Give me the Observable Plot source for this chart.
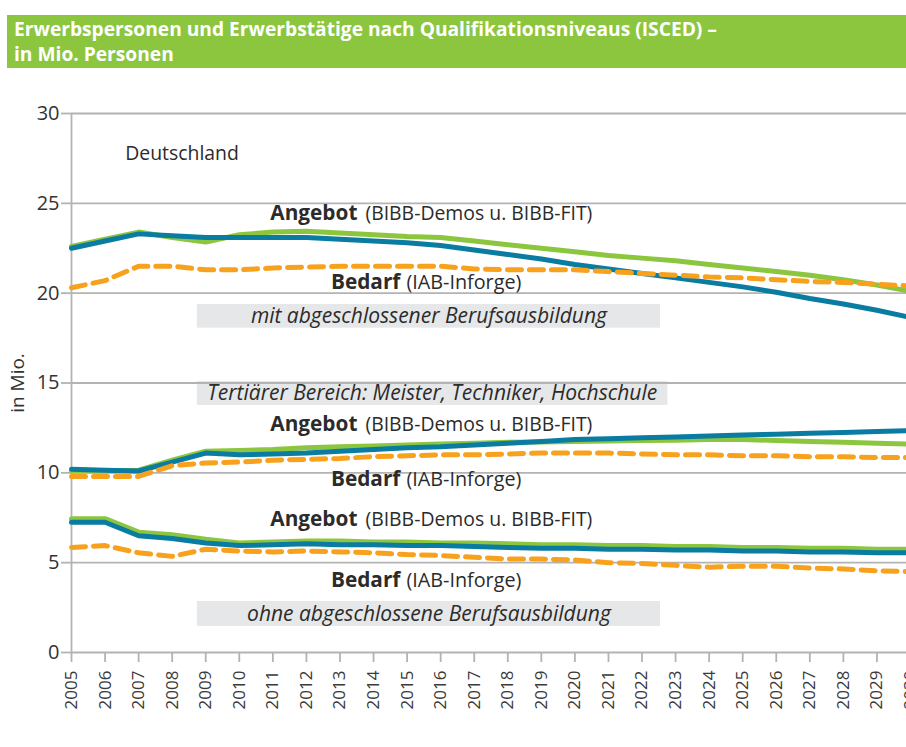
<!DOCTYPE html>
<html>
<head>
<meta charset="utf-8">
<script src="https://cdn.jsdelivr.net/npm/d3@7"></script>
<script src="https://cdn.jsdelivr.net/npm/@observablehq/plot@0.6"></script>
<style>
  html, body { margin: 0; padding: 0; background: #fff; width: 906px; height: 747px; overflow: hidden; }
  body { position: relative; font-family: "Open Sans", "DejaVu Sans", sans-serif; }
  #header { position: absolute; left: 7px; top: 15px; width: 899px; height: 53px; background: #8cc63f; }
  .hl { position: absolute; left: 7px; color: #fff; font-weight: bold; font-size: 19.2px; line-height: 26px; white-space: nowrap; }
  #chart { position: absolute; left: 0; top: 70px; }
</style>
</head>
<body>
<div id="header">
  <div class="hl" style="top:1px">Erwerbspersonen und Erwerbstätige nach Qualifikationsniveaus (ISCED) –</div>
  <div class="hl" style="top:26px">in Mio. Personen</div>
</div>
<div id="chart"></div>
<script>
// ---- data ----
const years = [2005,2006,2007,2008,2009,2010,2011,2012,2013,2014,2015,2016,2017,2018,2019,2020,2021,2022,2023,2024,2025,2026,2027,2028,2029,2030];
const yTicks = [0, 5, 10, 15, 20, 25, 30];

// mit abgeschlossener Berufsausbildung
const greenTop  = [22.6,23.0,23.4,23.1,22.85,23.25,23.4,23.45,23.35,23.25,23.15,23.1,22.9,22.7,22.5,22.3,22.1,21.95,21.8,21.6,21.4,21.2,21.0,20.75,20.45,20.1];
const blueTop   = [22.5,22.9,23.3,23.2,23.1,23.1,23.1,23.1,23.0,22.9,22.8,22.65,22.4,22.15,21.9,21.6,21.35,21.1,20.85,20.6,20.35,20.05,19.7,19.4,19.05,18.65];
const orangeTop = [20.3,20.7,21.5,21.5,21.3,21.3,21.4,21.45,21.5,21.5,21.5,21.5,21.35,21.3,21.3,21.3,21.2,21.1,21.0,20.9,20.85,20.75,20.65,20.6,20.5,20.4];
// Tertiärer Bereich
const greenMid  = [10.1,10.1,10.15,10.7,11.2,11.25,11.3,11.4,11.45,11.5,11.55,11.6,11.65,11.7,11.72,11.75,11.77,11.8,11.82,11.85,11.85,11.8,11.75,11.7,11.65,11.6];
const blueMid   = [10.2,10.15,10.1,10.6,11.1,11.0,11.05,11.1,11.2,11.3,11.4,11.45,11.55,11.65,11.75,11.85,11.9,11.95,12.0,12.05,12.1,12.15,12.2,12.25,12.3,12.35];
const orangeMid = [9.8,9.8,9.8,10.4,10.55,10.6,10.7,10.75,10.8,10.9,10.95,11.0,11.0,11.05,11.1,11.1,11.1,11.05,11.0,11.0,10.95,10.95,10.9,10.9,10.85,10.85];
// ohne abgeschlossene Berufsausbildung
const greenBot  = [7.45,7.45,6.7,6.55,6.3,6.1,6.15,6.2,6.2,6.15,6.15,6.1,6.1,6.05,6.0,6.0,5.95,5.95,5.9,5.9,5.85,5.85,5.8,5.8,5.75,5.75];
const blueBot   = [7.25,7.25,6.5,6.35,6.1,5.95,6.0,6.05,6.0,6.0,5.95,5.95,5.9,5.85,5.8,5.8,5.75,5.75,5.7,5.7,5.65,5.65,5.6,5.6,5.55,5.55];
const orangeBot = [5.85,5.95,5.55,5.35,5.75,5.65,5.6,5.65,5.6,5.55,5.45,5.4,5.3,5.2,5.2,5.15,5.0,4.95,4.85,4.75,4.8,4.8,4.7,4.65,4.55,4.5];

// annotation texts
const angebotBold = "Angebot";
const angebotRest = "(BIBB-Demos u. BIBB-FIT)";
const bedarfBold = "Bedarf";
const bedarfRest = "(IAB-Inforge)";
const boxLabels = ["mit abgeschlossener Berufsausbildung", "Tertiärer Bereich: Meister, Techniker, Hochschule", "ohne abgeschlossene Berufsausbildung"];
const regionLabel = "Deutschland";
const yLabel = "in Mio.";

// ---- layout of annotations (data coordinates) ----
const boxes = [
  {x1: 2008.75, x2: 2022.55, y1: 18.05, y2: 19.37, label: boxLabels[0], xm: 2015.65, ym: 18.72},
  {x1: 2008.75, x2: 2022.77, y1: 13.75, y2: 15.08, label: boxLabels[1], xm: 2015.75, ym: 14.42},
  {x1: 2008.75, x2: 2022.55, y1: 1.45,  y2: 2.84,  label: boxLabels[2], xm: 2015.65, ym: 2.15}
];
const angebotY = [24.43, 12.69, 7.4];
const bedarfY = [20.6, 9.63, 4.0];

const C_GREEN = "#8cc63f", C_BLUE = "#0a7ba1", C_ORANGE = "#f7a11d", C_GRID = "#b3b3b3", C_TEXT = "#2b2b2b";

const seriesDefs = [
  {vals: greenTop, color: C_GREEN}, {vals: blueTop, color: C_BLUE}, {vals: orangeTop, color: C_ORANGE, dash: true},
  {vals: greenMid, color: C_GREEN}, {vals: blueMid, color: C_BLUE}, {vals: orangeMid, color: C_ORANGE, dash: true},
  {vals: greenBot, color: C_GREEN}, {vals: blueBot, color: C_BLUE}, {vals: orangeBot, color: C_ORANGE, dash: true}
];

const lineMarks = seriesDefs.map(s => Plot.line(years.map((yr, i) => ({year: yr, value: s.vals[i]})), {
  x: "year", y: "value", stroke: s.color, strokeWidth: 5,
  strokeDasharray: s.dash ? "14,8" : null, strokeLinejoin: "round"
}));

const splitA = 2013.52, splitB = 2014.8;
const fontFam = "'Open Sans', 'DejaVu Sans', sans-serif";

const plot = Plot.plot({
  width: 906,
  height: 677,
  marginTop: 43,
  marginBottom: 95,
  marginLeft: 71,
  marginRight: -4,
  style: {fontFamily: fontFam, background: "transparent", overflow: "visible"},
  x: {domain: [2005, 2030], type: "linear"},
  y: {domain: [0, 30]},
  marks: [
    Plot.rect(boxes, {x1: "x1", x2: "x2", y1: "y1", y2: "y2", fill: "#e6e7e8"}),
    Plot.ruleY(yTicks, {stroke: C_GRID, strokeWidth: 1.8}),
    Plot.ruleX([2005], {stroke: C_GRID, strokeWidth: 1.8}),
    Plot.axisY({ticks: yTicks, tickSize: 10, tickPadding: 2, fontSize: 20, stroke: C_GRID, strokeWidth: 1.8, fill: "#333",
      label: null, tickFormat: d => String(d)}),
    Plot.axisX({ticks: years, tickSize: 10, tickPadding: 8, tickRotate: -90, fontSize: 17, stroke: C_GRID, strokeWidth: 1.8,
      fill: "#3a3a3a", tickFormat: d => String(d), label: null}),
    Plot.text([yLabel], {x: 2005, y: 15, text: d => d, rotate: -90, dx: -54, fontSize: 19, fill: "#333"}),
    ...lineMarks,
    Plot.text(boxes, {x: "xm", y: "ym", text: "label", fontSize: 21, fontStyle: "italic", fill: C_TEXT}),
    Plot.text(angebotY, {x: splitA, y: d => d, text: () => angebotBold, textAnchor: "end", fontWeight: "bold", fontSize: 20.8, fill: C_TEXT}),
    Plot.text(angebotY, {x: splitA, y: d => d, text: () => angebotRest, textAnchor: "start", dx: 8, fontSize: 19.4, fill: C_TEXT}),
    Plot.text(bedarfY, {x: splitB, y: d => d, text: () => bedarfBold, textAnchor: "end", fontWeight: "bold", fontSize: 20.8, fill: C_TEXT}),
    Plot.text(bedarfY, {x: splitB, y: d => d, text: () => bedarfRest, textAnchor: "start", dx: 6, fontSize: 19.8, fill: C_TEXT}),
    Plot.text([regionLabel], {x: 2006.6, y: 27.77, text: d => d, textAnchor: "start", fontSize: 19.4, fill: C_TEXT})
  ]
});
document.getElementById("chart").appendChild(plot);
</script>
</body>
</html>
